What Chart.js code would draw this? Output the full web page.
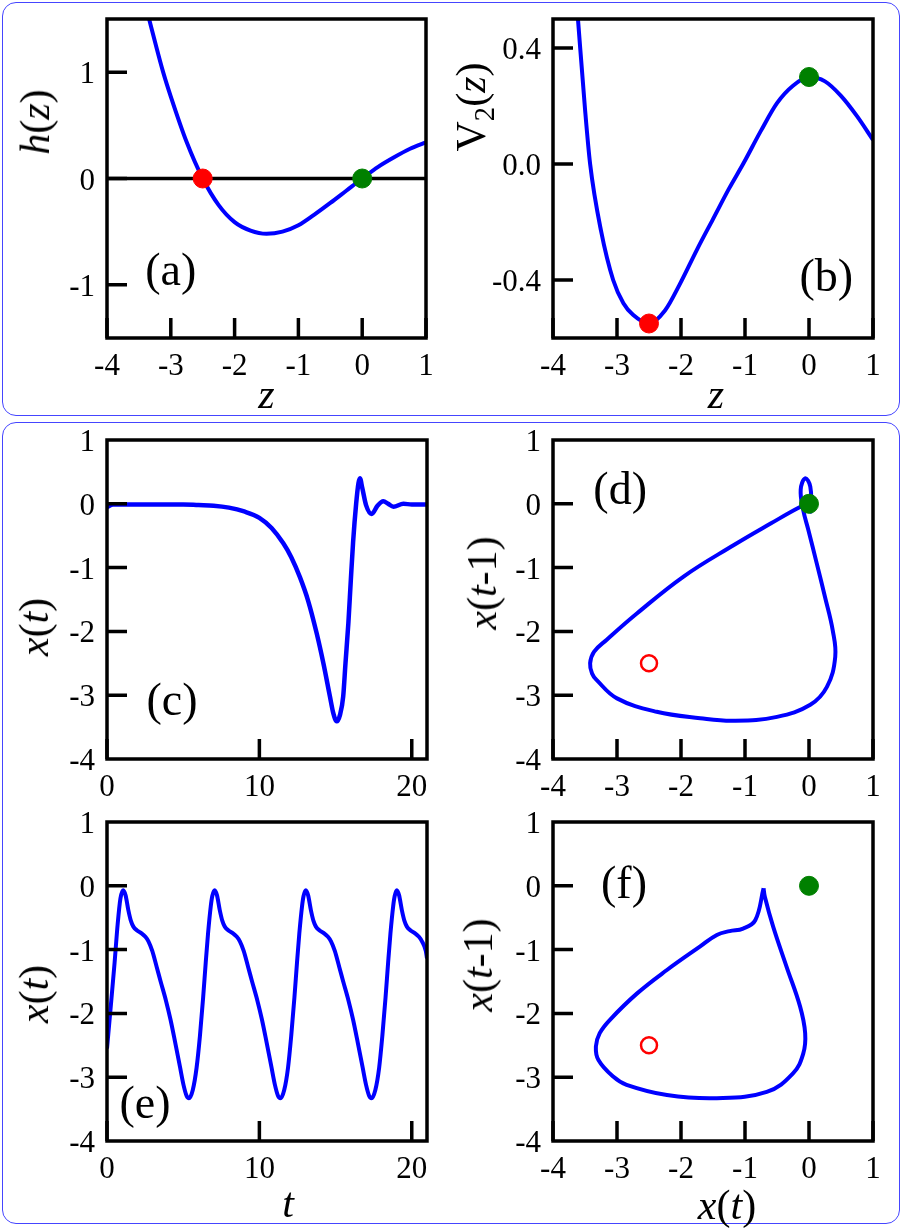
<!DOCTYPE html>
<html>
<head>
<meta charset="utf-8">
<script src="https://cdn.jsdelivr.net/npm/chart.js@4.4.1/dist/chart.umd.min.js"></script>
<style>
  body { margin: 0; padding: 0; background: #fff; font-family: 'Liberation Serif', 'Times New Roman', Tinos, serif; }
  #fig { position: relative; width: 903px; height: 1230px; overflow: hidden; }
  .box { position: absolute; border: 1.5px solid #4545ff; border-radius: 14px; box-sizing: border-box; }
  canvas { position: absolute; }
  .lbl { position: absolute; white-space: nowrap; line-height: 1; color: #000; z-index: 5; }
  .lbl sub { font-size: 0.68em; vertical-align: -0.3em; line-height: 0; }
  .tick { font-size: 31px; }
  .title { font-size: 42px; }
  .plabel { font-size: 46px; }
</style>
</head>
<body>
<div id="fig">
<div class="box" style="left:2px;top:2px;width:898px;height:414px"></div>
<div class="box" style="left:2px;top:422px;width:898px;height:802px"></div>
<canvas id="pa" width="450" height="412" style="left:0;top:0"></canvas>
<canvas id="pb" width="450" height="412" style="left:450px;top:0"></canvas>
<canvas id="pc" width="450" height="395" style="left:0;top:420px"></canvas>
<canvas id="pd" width="450" height="395" style="left:450px;top:420px"></canvas>
<canvas id="pe" width="450" height="425" style="left:0;top:800px"></canvas>
<canvas id="pf" width="450" height="425" style="left:450px;top:800px"></canvas>
</div>
<script>
// ---- data ----
// (a) h(z)
const hZ    = [-3.34, -3.25, -3.12, -3.0, -2.75, -2.5, -2.25, -2.0, -1.75, -1.5, -1.25, -1.0, -0.75, -0.5, -0.25, 0, 0.25, 0.5, 0.75, 1.0];
const hVals = [1.5, 1.29, 1.0, 0.77, 0.34, 0, -0.25, -0.41, -0.49, -0.52, -0.50, -0.44, -0.34, -0.23, -0.115, 0, 0.11, 0.2, 0.28, 0.34];
// (b) V2(z)
const vZ    = [-3.61, -3.5, -3.42, -3.25, -3.06, -2.9, -2.75, -2.5, -2.25, -2.02, -1.75, -1.5, -1.25, -1.03, -0.75, -0.5, -0.25, 0, 0.25, 0.5, 0.75, 1.0];
const vVals = [0.5, 0.19, 0.0, -0.23, -0.4, -0.48, -0.52, -0.55, -0.505, -0.415, -0.295, -0.19, -0.085, 0.0, 0.115, 0.21, 0.27, 0.30, 0.285, 0.235, 0.165, 0.083];
// fixed points
const fixedZ = [-2.5, 0];
const fixedV = [-0.55, 0.30];
const zeroLineZ = [-4, 1];
// (c) x(t), transient
const cT = [0, 0.4, 1, 2, 3, 4, 5, 6, 7, 8, 9, 10, 10.8, 11.57, 12.1, 12.66, 13.2, 13.76, 14.2, 14.63, 14.85, 15.07, 15.3, 15.5, 15.65, 15.84, 16.0, 16.15, 16.35, 16.5, 16.6, 16.75, 17.0, 17.37, 17.75, 18.13, 18.45, 18.8, 19.45, 20.0, 21.0];
const cX = [-0.05, -0.01, -0.01, -0.01, -0.01, -0.01, -0.01, -0.02, -0.03, -0.06, -0.12, -0.22, -0.38, -0.62, -0.84, -1.15, -1.52, -2.03, -2.5, -3.02, -3.28, -3.41, -3.3, -3.02, -2.5, -1.87, -1.2, -0.6, 0.0, 0.32, 0.4, 0.25, -0.02, -0.16, -0.03, 0.04, 0.0, -0.045, 0.0, -0.01, -0.01];
// (d) x(t-1) vs x(t), transient
const dX = [0, -0.14, -0.6, -1.18, -1.96, -2.69, -3.16, -3.36, -3.42, -3.39, -3.32, -3.0, -2.38, -1.7, -1.18, -0.5, 0.02, 0.28, 0.41, 0.37, 0.25, 0.12, -0.01, -0.09, -0.13, -0.06, 0.02, 0.03, 0.0];
const dY = [0, -0.05, -0.31, -0.65, -1.14, -1.72, -2.13, -2.32, -2.5, -2.66, -2.76, -3.05, -3.26, -3.36, -3.40, -3.34, -3.15, -2.87, -2.40, -1.98, -1.46, -0.93, -0.41, -0.10, 0.22, 0.4, 0.27, -0.12, -0.02];
// (e) x(t), periodic
const eT = [0, 0.25, 0.5, 0.7, 0.88, 1.07,
  1.22, 1.40, 1.57, 1.73, 1.97, 2.27, 2.52, 2.72, 2.97, 3.27, 3.52, 3.87, 4.17, 4.47, 4.79, 5.02, 5.22, 5.38,
  5.63, 5.88, 6.10, 6.31, 6.48, 6.63, 6.81, 6.91, 7.07,
  7.22, 7.40, 7.57, 7.73, 7.97, 8.27, 8.52, 8.72, 8.97, 9.27, 9.52, 9.87, 10.17, 10.47, 10.79, 11.02, 11.22, 11.38,
  11.63, 11.88, 12.09, 12.30, 12.47, 12.62, 12.80, 12.90, 13.05,
  13.20, 13.38, 13.55, 13.71, 13.95, 14.25, 14.50, 14.70, 14.95, 15.25, 15.50, 15.85, 16.15, 16.45, 16.77, 17.00, 17.20, 17.36,
  17.61, 17.86, 18.07, 18.28, 18.45, 18.60, 18.78, 18.88, 19.02,
  19.17, 19.35, 19.52, 19.68, 19.92, 20.22, 20.47, 20.67, 20.92, 21.0];
const eX = [-2.55, -1.88, -1.2, -0.6, -0.2, -0.07,
  -0.15, -0.38, -0.55, -0.64, -0.70, -0.745, -0.80, -0.87, -1.02, -1.28, -1.50, -1.80, -2.10, -2.45, -2.84, -3.12, -3.29, -3.33,
  -3.20, -2.85, -2.35, -1.75, -1.20, -0.75, -0.32, -0.16, -0.07,
  -0.15, -0.38, -0.55, -0.64, -0.70, -0.745, -0.80, -0.87, -1.02, -1.28, -1.50, -1.80, -2.10, -2.45, -2.84, -3.12, -3.29, -3.33,
  -3.20, -2.85, -2.35, -1.75, -1.20, -0.75, -0.32, -0.16, -0.07,
  -0.15, -0.38, -0.55, -0.64, -0.70, -0.745, -0.80, -0.87, -1.02, -1.28, -1.50, -1.80, -2.10, -2.45, -2.84, -3.12, -3.29, -3.33,
  -3.20, -2.85, -2.35, -1.75, -1.20, -0.75, -0.32, -0.16, -0.07,
  -0.15, -0.38, -0.55, -0.64, -0.70, -0.745, -0.80, -0.87, -1.02, -1.14];
// (f) x(t-1) vs x(t), limit cycle (starts and ends at the cusp)
const fX = [-0.71, -0.84, -1.03, -1.24, -1.44, -1.70, -2.22, -2.69, -3.11, -3.27, -3.33, -3.29, -3.06, -2.85, -2.22, -1.44, -0.66, -0.25, -0.09, -0.06, -0.14, -0.35, -0.56, -0.69, -0.71];
const fY = [-0.04, -0.54, -0.67, -0.71, -0.77, -0.95, -1.32, -1.69, -2.10, -2.31, -2.52, -2.73, -2.99, -3.12, -3.28, -3.33, -3.23, -2.94, -2.63, -2.31, -1.89, -1.27, -0.64, -0.17, -0.04];
// fixed points in the delay plane
const unstableXY = [-2.5, -2.5];
const stableXY = [0, 0];

// tick values
const zTicks = [-4, -3, -2, -1, 0, 1];
const hTicks = [-1, 0, 1];
const vTicks = [-0.4, 0, 0.4];
const tTicks = [0, 10, 20];
const xTicks = [-4, -3, -2, -1, 0, 1];
const xyTicks = [-4, -3, -2, -1, 0, 1];

// ---- helpers ----
const BLUE = '#0000ff', RED = '#ff0000', GREEN = '#008000';
const pts = (xs, ys) => xs.map((x, i) => ({ x, y: ys[i] }));
const fig = document.getElementById('fig');

function curve(data, opts = {}) {
  return Object.assign({
    data, showLine: true, borderColor: BLUE, borderWidth: 4,
    pointRadius: 0, fill: false, cubicInterpolationMode: 'monotone'
  }, opts);
}
function dot(data, color) {
  return { data, showLine: false, pointRadius: 9.5, pointBackgroundColor: color,
           pointBorderColor: color, pointBorderWidth: 1, clip: false };
}
function ring(data) {
  return { data, showLine: false, pointRadius: 8, pointBackgroundColor: 'rgba(0,0,0,0)',
           pointBorderColor: RED, pointBorderWidth: 2.5, clip: false };
}

// text is placed as html over the canvases, at positions taken from the chart scales
function addText(html, x, y, cls, transform) {
  const el = document.createElement('div');
  el.className = 'lbl ' + cls;
  el.innerHTML = html;
  el.style.fontFamily = "'Liberation Serif', 'Times New Roman', Tinos, serif";
  el.style.left = x + 'px';
  el.style.top = y + 'px';
  el.style.transform = transform;
  fig.appendChild(el);
}

// frame and inward ticks
function framePlugin(deco) {
  return {
    id: 'frame',
    afterDatasetsDraw(chart) {
      const { ctx, chartArea: a, scales } = chart;
      ctx.save();
      ctx.strokeStyle = '#000';
      ctx.lineWidth = 3.5;
      ctx.strokeRect(a.left, a.top, a.right - a.left, a.bottom - a.top);
      ctx.beginPath();
      deco.xMarks.forEach(v => {
        const px = scales.x.getPixelForValue(v);
        ctx.moveTo(px, a.bottom); ctx.lineTo(px, a.bottom - 20);
      });
      deco.yMarks.forEach(v => {
        const py = scales.y.getPixelForValue(v);
        ctx.moveTo(a.left, py); ctx.lineTo(a.left + 20, py);
      });
      ctx.stroke();
      ctx.restore();
    }
  };
}

function axis(min, max, ticks, fixedSize, horizontal) {
  return {
    type: 'linear', min, max,
    position: horizontal ? 'bottom' : 'left',
    afterBuildTicks: s => { s.ticks = ticks.map(v => ({ value: v })); },
    afterFit: s => {
      if (horizontal) s.height = fixedSize; else s.width = fixedSize;
      s.paddingLeft = 0; s.paddingRight = 0; s.paddingTop = 0; s.paddingBottom = 0;
    },
    grid: { display: false, drawTicks: false },
    border: { display: false },
    ticks: { display: false }
  };
}
const intFmt = v => String(v);
const oneDec = v => v.toFixed(1);

function panel(id, p) {
  const chart = new Chart(document.getElementById(id), {
    type: 'scatter',
    data: { datasets: p.datasets },
    options: {
      responsive: false, animation: false, devicePixelRatio: 1, events: [],
      layout: { padding: { left: 0, top: p.pad[0], right: p.pad[1], bottom: 0 } },
      plugins: { legend: { display: false }, tooltip: { enabled: false } },
      scales: {
        x: axis(p.x[0], p.x[1], p.xTicks, p.xH, true),
        y: axis(p.y[0], p.y[1], p.yTicks, p.yW, false)
      }
    },
    plugins: [framePlugin(p.deco)]
  });

  const ox = chart.canvas.offsetLeft, oy = chart.canvas.offsetTop;
  const a = chart.chartArea, sx = chart.scales.x, sy = chart.scales.y, d = p.deco;
  const yFmt = p.yFmt || intFmt;
  p.xTicks.forEach(v => addText(intFmt(v), ox + sx.getPixelForValue(v), oy + a.bottom + 26, 'tick', 'translate(-50%,-50%)'));
  p.yTicks.forEach(v => addText(yFmt(v), ox + a.left - 12, oy + sy.getPixelForValue(v), 'tick', 'translate(-100%,-50%)'));
  if (d.xTitle) {
    addText(d.xTitle, ox + (a.left + a.right) / 2 + d.xTitlePos[0], oy + a.bottom + d.xTitlePos[1], 'title', 'translate(-50%,-50%)');
  }
  addText(d.yTitle, ox + a.left + d.yTitlePos[0], oy + a.top + d.yTitlePos[1], 'title', 'translate(-50%,-50%) rotate(-90deg)');
  addText(d.label, ox + sx.getPixelForValue(d.labelAt[0]), oy + sy.getPixelForValue(d.labelAt[1]) - 4, 'plabel', 'translate(-50%,-50%)');
  return chart;
}

const zTitle = '<i>z</i>';
const tTitle = '<i>t</i>';
const hzTitle = '<i>h</i>(<i>z</i>)';
const v2Title = 'V<sub>2</sub>(<i>z</i>)';
const xtTitle = '<i>x</i>(<i>t</i>)';
const xt1Title = '<i>x</i>(<i>t</i>-1)';

panel('pa', {
  datasets: [
    dot(pts([fixedZ[0]], [0]), RED),
    dot(pts([fixedZ[1]], [0]), GREEN),
    curve(pts(zeroLineZ, [0, 0]), { borderColor: '#000', borderWidth: 3.5, cubicInterpolationMode: 'default' }),
    curve(pts(hZ, hVals))
  ],
  x: [-4, 1], y: [-1.5, 1.5], xTicks: zTicks, yTicks: hTicks,
  pad: [19, 24], yW: 107, xH: 74,
  deco: { xMarks: zTicks, yMarks: hTicks, xTitle: zTitle, xTitlePos: [0, 56],
          yTitle: hzTitle, yTitlePos: [-72, 103], label: '(a)', labelAt: [-3.0, -0.9] }
});

panel('pb', {
  datasets: [
    dot(pts([fixedZ[0]], [fixedV[0]]), RED),
    dot(pts([fixedZ[1]], [fixedV[1]]), GREEN),
    curve(pts(vZ, vVals))
  ],
  x: [-4, 1], y: [-0.6, 0.5], xTicks: zTicks, yTicks: vTicks, yFmt: oneDec,
  pad: [19, 27], yW: 103, xH: 74,
  deco: { xMarks: zTicks, yMarks: vTicks, xTitle: zTitle, xTitlePos: [3, 56],
          yTitle: v2Title, yTitlePos: [-82, 88], label: '(b)', labelAt: [0.27, -0.4] }
});

panel('pc', {
  datasets: [curve(pts(cT, cX), { borderWidth: 4.5 })],
  x: [0, 21], y: [-4, 1], xTicks: tTicks, yTicks: xyTicks,
  pad: [20, 23], yW: 107, xH: 56,
  deco: { xMarks: tTicks, yMarks: [-3, -2, -1, 0], yTitle: xtTitle, yTitlePos: [-73, 187],
          label: '(c)', labelAt: [4.27, -3.14] }
});

panel('pd', {
  datasets: [
    dot(pts([stableXY[0]], [stableXY[1]]), GREEN),
    ring(pts([unstableXY[0]], [unstableXY[1]])),
    curve(pts(dX, dY), { cubicInterpolationMode: 'default', tension: 0.4 })
  ],
  x: [-4, 1], y: [-4, 1], xTicks: xTicks, yTicks: xyTicks,
  pad: [20, 27], yW: 103, xH: 56,
  deco: { xMarks: xTicks, yMarks: [-3, -2, -1, 0], yTitle: xt1Title, yTitlePos: [-71, 143],
          label: '(d)', labelAt: [-2.95, 0.17] }
});

panel('pe', {
  datasets: [curve(pts(eT, eX))],
  x: [0, 21], y: [-4, 1], xTicks: tTicks, yTicks: xyTicks,
  pad: [22, 23], yW: 107, xH: 84,
  deco: { xMarks: tTicks, yMarks: [-3, -2, -1, 0], xTitle: tTitle, xTitlePos: [21, 62],
          yTitle: xtTitle, yTitlePos: [-73, 172], label: '(e)', labelAt: [2.49, -3.47] }
});

panel('pf', {
  datasets: [
    dot(pts([stableXY[0]], [stableXY[1]]), GREEN),
    ring(pts([unstableXY[0]], [unstableXY[1]])),
    curve(pts(fX, fY), { cubicInterpolationMode: 'default', tension: 0.4 })
  ],
  x: [-4, 1], y: [-4, 1], xTicks: xTicks, yTicks: xyTicks,
  pad: [22, 27], yW: 103, xH: 84,
  deco: { xMarks: xTicks, yMarks: [-3, -2, -1, 0], xTitle: xtTitle, xTitlePos: [14, 64],
          yTitle: xt1Title, yTitlePos: [-75, 143], label: '(f)', labelAt: [-2.89, -0.02] }
});
</script>
</body>
</html>
